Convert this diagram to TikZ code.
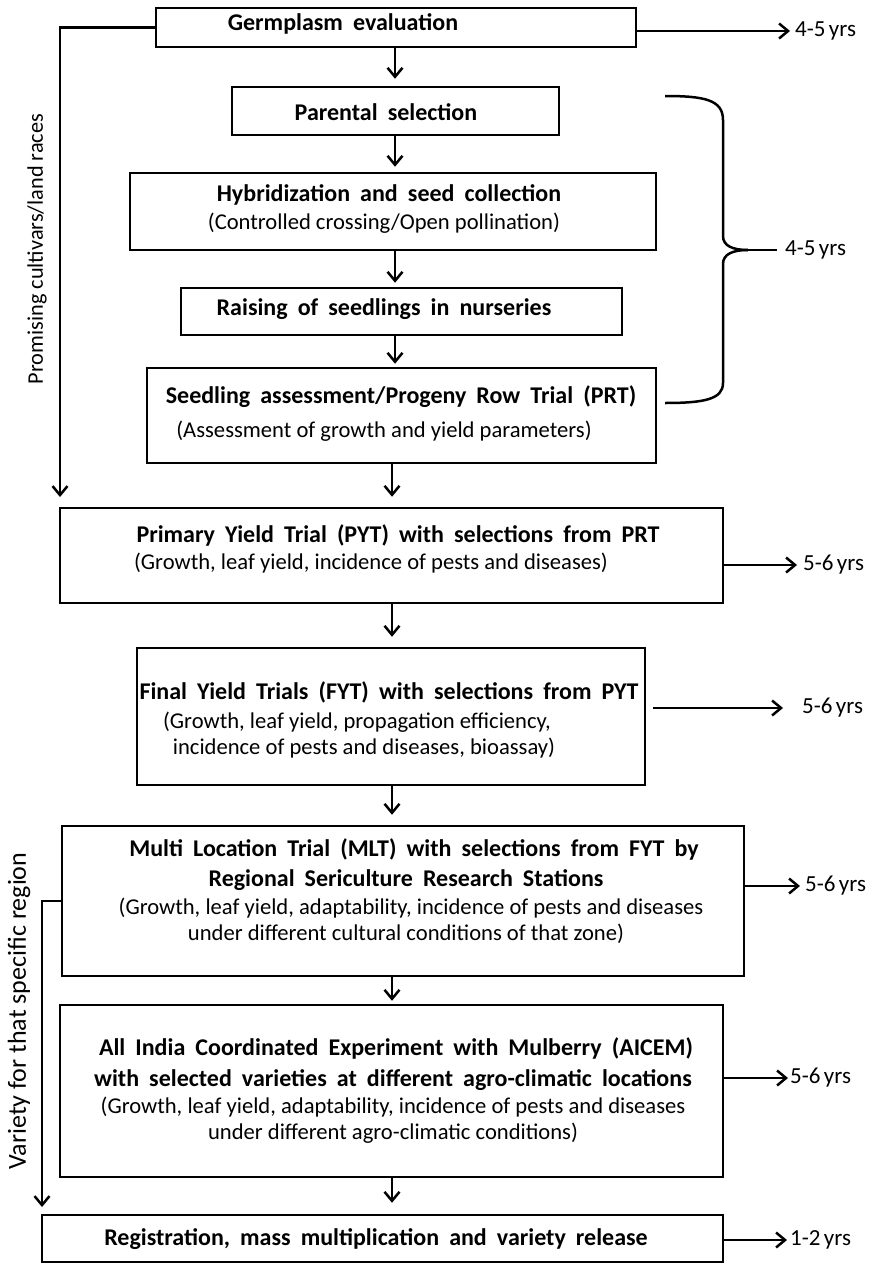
\documentclass[tikz,border=0pt]{standalone}
\usepackage{fontspec}
\setmainfont{Carlito}
\usetikzlibrary{arrows.meta}
\newcommand\wideskip{\spaceskip=0.42em plus 0.1em\relax}
\newcommand\narrowskip{\spaceskip=0.15em\relax}
\begin{document}
\begin{tikzpicture}[x=1pt,y=-1pt,
  box/.style={draw, line width=2.5pt, rectangle, inner sep=0pt},
  bt/.style={font=\fontsize{24}{28}\selectfont\bfseries\wideskip, inner sep=0pt},
  nt/.style={font=\fontsize{22.6}{26}\selectfont, inner sep=0pt},
  yrs/.style={font=\fontsize{23}{26}\selectfont\narrowskip, inner sep=0pt, anchor=west},
  side/.style={font=\fontsize{22.3}{26}\selectfont, inner sep=0pt, rotate=90},
  sideb/.style={font=\fontsize{26}{30}\selectfont, inner sep=0pt, rotate=90},
  arr/.style={line width=2.5pt, -{Straight Barb[length=9pt,width=15pt,line width=2.5pt]}},
  conn/.style={line width=2.5pt}
]
\useasboundingbox (0,0) rectangle (873,1263);
\fill[white] (0,0) rectangle (873,1263);

% boxes
\node[box, minimum width=480pt, minimum height=39pt] (germ) at (396,27.5) {};
\node[box, minimum width=327pt, minimum height=48pt] (par) at (395.5,111) {};
\node[box, minimum width=526pt, minimum height=77pt] (hyb) at (393,211.5) {};
\node[box, minimum width=441pt, minimum height=47pt] (rai) at (401.5,311.5) {};
\node[box, minimum width=509pt, minimum height=95pt] (see) at (401.5,415.5) {};
\node[box, minimum width=663pt, minimum height=95pt] (pyt) at (391.5,555.5) {};
\node[box, minimum width=508pt, minimum height=137pt] (fyt) at (391,716.5) {};
\node[box, minimum width=682pt, minimum height=150pt] (mlt) at (403,901) {};
\node[box, minimum width=663pt, minimum height=172pt] (aic) at (391.5,1091) {};
\node[box, minimum width=681pt, minimum height=47pt] (reg) at (382.5,1238.5) {};

% texts
\node[bt] (tgerm) at (343,24) {Germplasm evaluation};
\node[bt] (tpar) at (386,112) {Parental selection};
\node[bt] (thyb1) at (389,195) {Hybridization and seed collection};
\node[nt] (thyb2) at (384,223) {(Controlled crossing/Open pollination)};
\node[bt] (trai) at (384,309) {Raising of seedlings in nurseries};
\node[bt] (tsee1) at (401,397) {Seedling assessment/Progeny Row Trial (PRT)};
\node[nt] (tsee2) at (384,431) {(Assessment of growth and yield parameters)};
\node[bt] (tpyt1) at (398,535) {Primary Yield Trial (PYT) with selections from PRT};
\node[nt] (tpyt2) at (371,563) {(Growth, leaf yield, incidence of pests and diseases)};
\node[bt] (tfyt1) at (389,692) {Final Yield Trials (FYT) with selections from PYT};
\node[nt] (tfyt2) at (357,722) {(Growth, leaf yield, propagation efficiency,};
\node[nt] (tfyt3) at (364,748) {incidence of pests and diseases, bioassay)};
\node[bt] (tmlt1) at (414,849) {Multi Location Trial (MLT) with selections from FYT by};
\node[bt] (tmlt2) at (406,880) {Regional Sericulture Research Stations};
\node[nt] (tmlt3) at (411,908) {(Growth, leaf yield, adaptability, incidence of pests and diseases};
\node[nt] (tmlt4) at (406,934) {under different cultural conditions of that zone)};
\node[bt] (taic1) at (396,1048) {All India Coordinated Experiment with Mulberry (AICEM)};
\node[bt] (taic2) at (393,1080) {with selected varieties at different agro-climatic locations};
\node[nt] (taic3) at (393,1107) {(Growth, leaf yield, adaptability, incidence of pests and diseases};
\node[nt] (taic4) at (393,1133) {under different agro-climatic conditions)};
\node[bt] (treg) at (376,1239) {Registration, mass multiplication and variety release};

% side labels
\node[side] (sl1) at (37,249) {Promising cultivars/land races};
\node[sideb] (sl2) at (19,1011) {Variety for that specific region};

% year labels
\node[yrs] (y1) at (795,31) {4-5 yrs};
\node[yrs] (y2) at (785,250) {4-5 yrs};
\node[yrs] (y3) at (803,565) {5-6 yrs};
\node[yrs] (y4) at (802,708) {5-6 yrs};
\node[yrs] (y5) at (805,886) {5-6 yrs};
\node[yrs] (y6) at (790,1078) {5-6 yrs};
\node[yrs] (y7) at (790,1240) {1-2 yrs};

% column coordinates
\coordinate (ca) at (395,0);
\coordinate (cb) at (392,0);

% down arrows
\draw[arr, shorten >=7pt] (germ.south -| ca) -- (par.north -| ca);
\draw[arr, shorten >=5pt] (par.south -| ca) -- (hyb.north -| ca);
\draw[arr, shorten >=4pt] (hyb.south -| ca) -- (rai.north -| ca);
\draw[arr, shorten >=3pt] (rai.south -| ca) -- (see.north -| ca);
\draw[arr, shorten >=10pt] (see.south -| cb) -- (pyt.north -| cb);
\draw[arr, shorten >=10pt] (pyt.south -| cb) -- (fyt.north -| cb);
\draw[arr, shorten >=10pt] (fyt.south -| cb) -- (mlt.north -| cb);
\draw[arr, shorten >=3pt] (mlt.south -| cb) -- (aic.north -| cb);
\draw[arr, shorten >=11pt] (aic.south -| cb) -- (reg.north -| cb);

% left branches
\coordinate (lc1) at (60,497);
\coordinate (lc2) at (42,1207);
\draw[arr] (germ.west) -| (lc1);
\draw[arr] (mlt.west) -| (lc2);

% right arrows
\draw[arr, shorten >=5pt] (germ.east |- y1) -- (y1.west);
\draw[arr, shorten >=6pt] (pyt.east |- y3) -- (y3.west);
\draw[arr, shorten <=7pt, shorten >=19pt] (fyt.east |- y4) -- (y4.west);
\draw[arr, shorten >=5pt] (mlt.east |- y5) -- (y5.west);
\draw[arr, shorten >=2pt] (aic.east |- y6) -- (y6.west);
\draw[arr, shorten >=3pt] (reg.east |- y7) -- (y7.west);

% brace
\coordinate (bt) at (665,96);
\coordinate (bb) at (665,403);
\coordinate (bk) at (748,250);
\draw[conn] (bt) .. controls (705,96) and (723,100) .. (723,120) -- (723,236)
  .. controls (723,246) and (733,250) .. (bk);
\draw[conn] (bb) .. controls (705,403) and (723,399) .. (723,383) -- (723,264)
  .. controls (723,254) and (733,250) .. (bk);
\draw[conn, shorten >=8pt] (bk) -- (y2.west);
\end{tikzpicture}
\end{document}
